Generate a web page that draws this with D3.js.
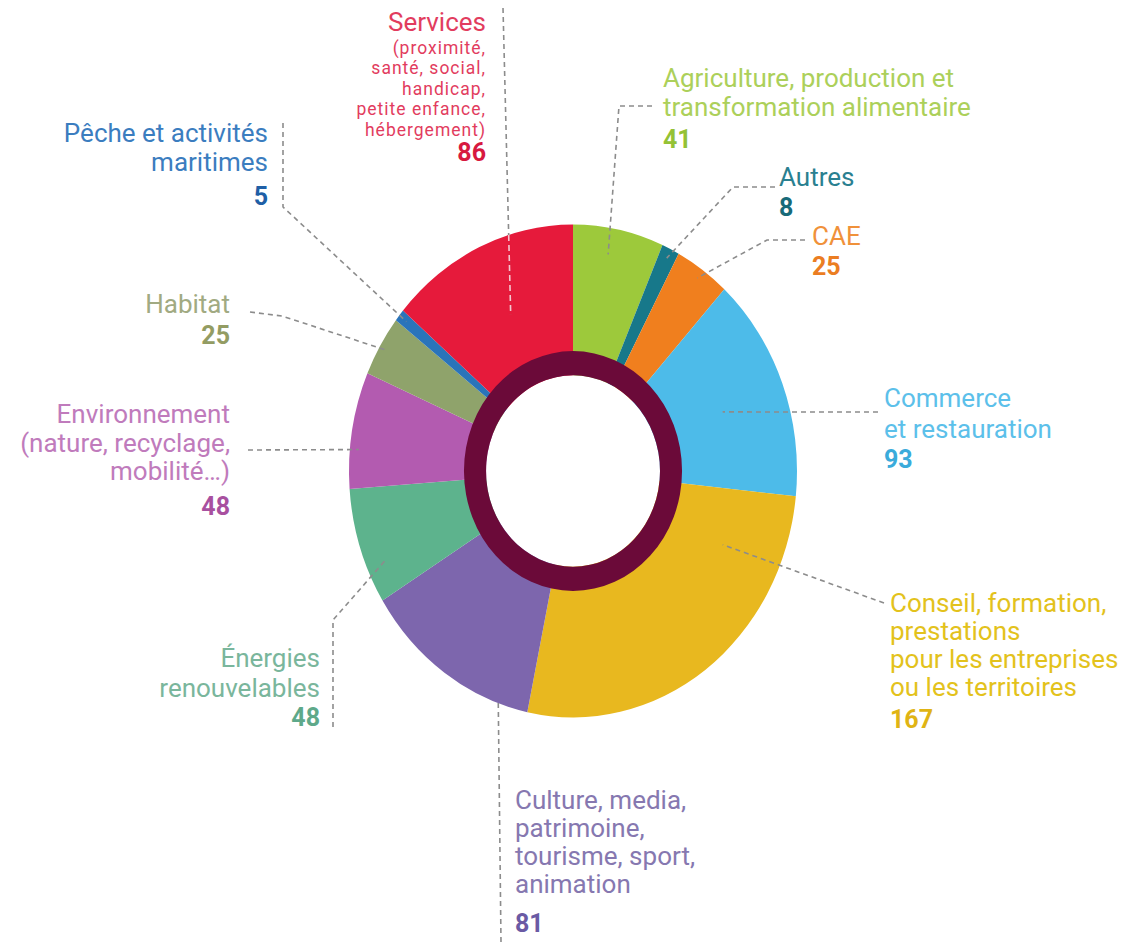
<!DOCTYPE html>
<html>
<head>
<meta charset="utf-8">
<script src="https://cdn.jsdelivr.net/npm/d3@7"></script>
<style>
  html, body { margin: 0; padding: 0; background: #fff; }
  svg { display: block; }
  text { font-family: Roboto, "Open Sans", sans-serif; }
</style>
</head>
<body>
<svg id="chart" width="1141" height="942"></svg>
<script>
// ---- data ----
const categories = [
  "Agriculture, production et transformation alimentaire",
  "Autres",
  "CAE",
  "Commerce et restauration",
  "Conseil, formation, prestations pour les entreprises ou les territoires",
  "Culture, media, patrimoine, tourisme, sport, animation",
  "Énergies renouvelables",
  "Environnement (nature, recyclage, mobilité…)",
  "Habitat",
  "Pêche et activités maritimes",
  "Services (proximité, santé, social, handicap, petite enfance, hébergement)"
];
const values = [41, 8, 25, 93, 167, 81, 48, 48, 25, 5, 86];
const labelLines = [
  ["Agriculture, production et", "transformation alimentaire"],
  ["Autres"],
  ["CAE"],
  ["Commerce", "et restauration"],
  ["Conseil, formation,", "prestations", "pour les entreprises", "ou les territoires"],
  ["Culture, media,", "patrimoine,", "tourisme, sport,", "animation"],
  ["Énergies", "renouvelables"],
  ["Environnement", "(nature, recyclage,", "mobilité…)"],
  ["Habitat"],
  ["Pêche et activités", "maritimes"],
  ["Services", "(proximité,", "santé, social,", "handicap,", "petite enfance,", "hébergement)"]
];
const sliceColors = ["#9dc93b", "#17788a", "#f07f1e", "#4dbbe9", "#e8b81f", "#7d66ad",
                     "#5db38d", "#b35bb0", "#8fa36b", "#2a74ba", "#e61a3b"];
const textColors  = ["#acd05a", "#2a8090", "#f0913a", "#5cc0ea", "#e3c21c", "#8678b0",
                     "#7ab69c", "#c07bbc", "#a1aa82", "#3b7dbf", "#e23c5e"];
const numColors   = ["#94c235", "#186a78", "#eb7d22", "#3aabdb", "#e0b414", "#6a5aa4",
                     "#5ea98a", "#a8509f", "#939c63", "#1f5fa6", "#d7193f"];

// ---- layout ----
const W = 1141, H = 942;
const cx = 573, cy = 471, ky = 1.1;       // the chart is slightly stretched vertically
const outerR = 224, ringOuter = 109, ringInner = 87;

const layout = [
  {x: 663, anchor: "start", ys: [87, 116], numY: 148, leader: {frac: 0.43, r: 200, pts: [[652,106],[619,106]]}},
  {x: 779, anchor: "start", ys: [186], numY: 216, leader: {frac: 0.5, r: 215, pts: [[775,187],[733,187]]}},
  {x: 812, anchor: "start", ys: [245], numY: 275, leader: {frac: 0.5, r: 215, pts: [[805,240],[767,240]]}},
  {x: 884, anchor: "start", ys: [407, 438], numY: 468, leader: {frac: 0.52, r: 159, pts: [[878,412]]}},
  {x: 890, anchor: "start", ys: [612, 640, 668, 696], numY: 728, leader: {frac: 0.19, r: 164, pts: [[884,603]]}},
  {x: 515, anchor: "start", ys: [809, 837, 865, 893], numY: 932, leader: {frac: 0.17, r: 222, pts: [[501,942]]}},
  {x: 320, anchor: "end", ys: [667, 697], numY: 726, leader: {frac: 0.3, r: 205, pts: [[333,727],[333,620]]}},
  {x: 230, anchor: "end", ys: [423, 452, 480], numY: 515, leader: {frac: 0.34, r: 215, pts: [[248,450]]}},
  {x: 230, anchor: "end", ys: [313], numY: 344, leader: {frac: 0.5, r: 215, pts: [[250,312],[282,316]]}},
  {x: 268, anchor: "end", ys: [142, 171], numY: 205, leader: {frac: 0.5, r: 215, pts: [[283,123],[283,207]]}},
  {x: 486, anchor: "end", ys: [31, 53.5, 74, 94.5, 115, 135.5], numY: 161, small: true, leader: {frac: 0.52, r: 155, pts: [[503,8]]}}
];

const svg = d3.select("#chart");
svg.append("rect").attr("width", W).attr("height", H).attr("fill", "#fff");

const pie = d3.pie().sort(null).value(d => d).startAngle(0).endAngle(2 * Math.PI);
const arcs = pie(values);
const arc = d3.arc().innerRadius(ringInner).outerRadius(outerR);

const g = svg.append("g").attr("transform", `translate(${cx},${cy}) scale(1,${ky})`);
g.selectAll("path.slice")
  .data(arcs)
  .enter().append("path")
  .attr("class", "slice")
  .attr("d", arc)
  .attr("fill", (d, i) => sliceColors[i]);

// inner dark ring
g.append("path")
  .attr("d", d3.arc().innerRadius(ringInner).outerRadius(ringOuter).startAngle(0).endAngle(2 * Math.PI)())
  .attr("fill", "#6b0a39");

// leader lines
function piePoint(i, frac, r) {
  const a = arcs[i].startAngle + frac * (arcs[i].endAngle - arcs[i].startAngle);
  return [cx + r * Math.sin(a), cy - ky * r * Math.cos(a)];
}
function insidePie(p) {
  const dx = p[0] - cx, dy = (p[1] - cy) / ky;
  return Math.sqrt(dx * dx + dy * dy) <= outerR;
}
const line = d3.line();
layout.forEach((L, i) => {
  const p = L.leader.pts.concat([piePoint(i, L.leader.frac, L.leader.r)]);
  svg.append("path")
    .attr("d", line(p))
    .attr("fill", "none")
    .attr("stroke", "#8c8c8c")
    .attr("stroke-width", 1.6)
    .attr("stroke-dasharray", "5,4");
  if (i === 10) {
    // part of the Services leader inside the red slice is drawn light
    const a = p[p.length - 2], b = p[p.length - 1];
    let t = 0;
    for (let k = 0; k <= 200; k++) { const tt = k / 200; if (insidePie([a[0] + (b[0]-a[0])*tt, a[1] + (b[1]-a[1])*tt])) { t = tt; break; } }
    const s = [a[0] + (b[0]-a[0])*t, a[1] + (b[1]-a[1])*t];
    svg.append("path")
      .attr("d", line([s, b]))
      .attr("stroke", sliceColors[10]).attr("stroke-width", 2.5);
    svg.append("path")
      .attr("d", line([s, b]))
      .attr("stroke", "#f4c6cf").attr("stroke-width", 1.6)
      .attr("stroke-dasharray", "6,4");
  }
});

// labels
layout.forEach((L, i) => {
  const lines = labelLines[i];
  lines.forEach((t, j) => {
    let size = 26, ls = 0;
    if (L.small && j > 0) { size = 17.5; ls = 1; }
    svg.append("text")
      .attr("x", L.x).attr("y", L.ys[j])
      .attr("text-anchor", L.anchor)
      .attr("font-size", size)
      .attr("letter-spacing", ls)
      .attr("fill", textColors[i])
      .text(t);
  });
  svg.append("text")
    .attr("x", L.x).attr("y", L.numY)
    .attr("text-anchor", L.anchor)
    .attr("font-size", 25)
    .attr("font-weight", "bold")
    .attr("fill", numColors[i])
    .text(values[i]);
});
</script>
</body>
</html>
